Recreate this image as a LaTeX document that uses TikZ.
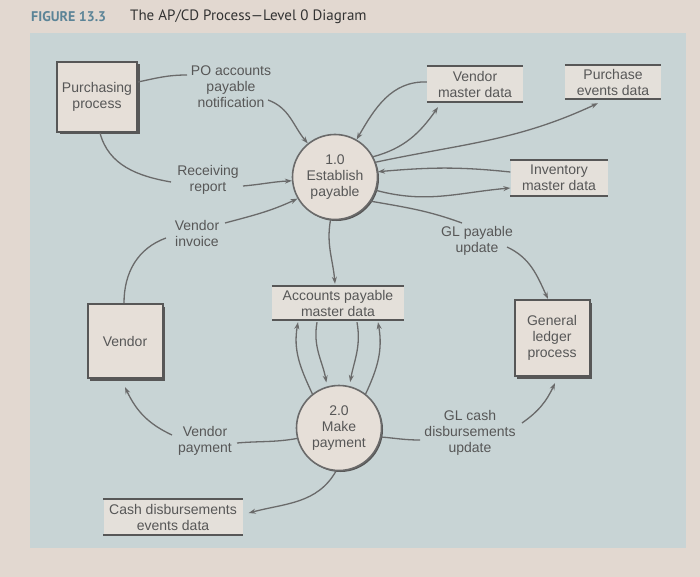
\documentclass[tikz,border=0pt]{standalone}
\usepackage{fontspec}
\setmainfont{Liberation Sans}
\newfontfamily\titlefont{PT Sans}
\usetikzlibrary{arrows.meta,shadows,calc}
\definecolor{page}{HTML}{E2D8D0}
\definecolor{panel}{HTML}{C8D4D5}
\definecolor{boxfill}{HTML}{E6DFD8}
\definecolor{storefill}{HTML}{E4E0DA}
\definecolor{ink}{HTML}{575757}
\definecolor{linec}{HTML}{6A6A6A}
\definecolor{figteal}{HTML}{5B8497}
\definecolor{titleink}{HTML}{333333}
\begin{document}
\begin{tikzpicture}[x=1pt,y=-1pt,
  every node/.style={font=\fontsize{14}{16}\selectfont, text=ink},
  extbox/.style={draw=ink, line width=2pt, fill=boxfill, align=center, inner sep=0pt,
    drop shadow={shadow xshift=2.5pt, shadow yshift=-2.5pt, fill=ink, opacity=1}},
  procc/.style={circle, draw=linec, line width=1.6pt, fill=boxfill, align=center, inner sep=0pt,
    minimum size=85pt, drop shadow={shadow xshift=1.5pt, shadow yshift=-1.5pt, fill=ink, opacity=1}},
  store/.style={fill=storefill, align=center, inner sep=0pt},
  storeline/.style={draw=ink, line width=2pt},
  lbl/.style={align=center, inner sep=0pt},
  plain/.style={draw=linec, line width=1.3pt},
  flow/.style={draw=linec, line width=1.3pt, -{Stealth[length=7pt,width=5pt]}}
]
\useasboundingbox (0,0) rectangle (700,577);
\fill[page] (0,0) rectangle (700,577);
\fill[panel] (30,33) rectangle (686,548);

% title
\node[anchor=west, inner sep=0pt, font=\titlefont\bfseries\fontsize{14}{16}\selectfont, text=figteal] (fig) at (31,17) {FIGURE 13.3};
\node[anchor=west, inner sep=0pt, font=\titlefont\fontsize{15}{17}\selectfont, text=titleink] (ttl) at (130,17) {The AP/CD Process—Level 0 Diagram};

% external entities
\node[extbox, minimum width=80pt, minimum height=70pt] (pp) at (97,97) {Purchasing\\process};
\node[extbox, minimum width=75pt, minimum height=74pt] (vend) at (125,341) {Vendor};
\node[extbox, minimum width=75pt, minimum height=76pt] (gl) at (552,338) {General\\ledger\\process};

% processes
\node[procc] (p1) at (335,177) {1.0\\Establish\\payable};
\node[procc] (p2) at (339,428) {2.0\\Make\\payment};

% data stores
\node[store, minimum width=96pt, minimum height=36pt] (vmd) at (475,84) {Vendor\\master data};
\node[store, minimum width=96pt, minimum height=34pt] (ped) at (613,82) {Purchase\\events data};
\node[store, minimum width=97pt, minimum height=35pt] (imd) at (559,178) {Inventory\\master data};
\node[store, minimum width=132pt, minimum height=34pt] (apm) at (338,303) {Accounts payable\\master data};
\node[store, minimum width=139pt, minimum height=35pt] (cde) at (173,517) {Cash disbursements\\events data};
\foreach \s in {vmd,ped,imd,apm,cde}{
  \draw[storeline] (\s.north west) -- (\s.north east) (\s.south west) -- (\s.south east);
}

% flow labels
\node[lbl] (polbl) at (231,87) {PO accounts\\payable\\notification};
\node[lbl] (rrlbl) at (208,180) {Receiving\\report};
\node[lbl] (vilbl) at (197,233) {Vendor\\invoice};
\node[lbl] (glplbl) at (477,241) {GL payable\\update};
\node[lbl] (vplbl) at (205,441) {Vendor\\payment};
\node[lbl] (glclbl) at (470,433) {GL cash\\disbursements\\update};

% label attachment points
\coordinate (poIn) at (187,75);
\coordinate (poOut) at (268,100);
\coordinate (rrIn) at (171,182);
\coordinate (rrOut) at (243,186);
\coordinate (viOut) at (225,223);
\coordinate (viIn) at (166,238);
\coordinate (glpIn) at (462,223);
\coordinate (glpOut) at (507,247);
\coordinate (vpIn) at (237,443);
\coordinate (vpOut) at (172,435);
\coordinate (glcIn) at (420,440);
\coordinate (glcOut) at (522,423);

% connectors into process 1.0
\draw[plain] ([yshift=15pt]pp.east) to[out=12,in=180] (poIn);
\draw[flow] (poOut) to[out=-20,in=130] (p1.129);
\draw[plain] ([xshift=3pt]pp.south) to[out=-75,in=170] (rrIn);
\draw[flow] (rrOut) to[out=5,in=183] (p1.185);
\draw[flow] (viOut) to[out=15,in=205] (p1.210);
\draw[plain] (viIn) to[out=200,in=90] ([xshift=-1pt]vend.north);

\draw[flow] ([yshift=2pt]vmd.west) to[out=178,in=60] (p1.60);
\draw[flow] (p1.28) to[out=15,in=235] ([xshift=-37pt,yshift=-5pt]vmd.south);
\draw[flow] (p1.20) to[out=12,in=205] ([xshift=-15pt,yshift=-4pt]ped.south);
\draw[flow] ([yshift=6pt]imd.west) to[out=174,in=5] (p1.7);
\draw[flow] (p1.-18) to[out=-15,in=185] ([yshift=-10pt]imd.west);
\draw[plain] (p1.-34) to[out=-10,in=160] (glpIn);
\draw[flow] (glpOut) to[out=-25,in=115] ([xshift=-4pt]gl.north);

\draw[flow] (p1.264) to[out=-100,in=95] ([xshift=-3pt,yshift=2pt]apm.north);

% between AP master data and process 2.0
\draw[flow] (p2.128) to[out=115,in=-100] ([xshift=-40pt,yshift=-2pt]apm.south);
\draw[flow, shorten >=4pt] ([xshift=-21pt,yshift=-2pt]apm.south) to[out=-100,in=100] (p2.106);
\draw[flow, shorten >=4pt] ([xshift=19pt,yshift=-2pt]apm.south) to[out=-80,in=80] (p2.76);
\draw[flow] (p2.52) to[out=65,in=-80] ([xshift=40pt,yshift=-2pt]apm.south);

% out of process 2.0
\draw[plain] (p2.194) to[out=190,in=5] (vpIn);
\draw[flow] (vpOut) to[out=155,in=-65] ([yshift=-8pt]vend.south);
\draw[plain] (p2.-12) to[out=-5,in=180] (glcIn);
\draw[flow] (glcOut) to[out=35,in=-115] ([xshift=3pt,yshift=-6pt]gl.south);
\draw[flow] (p2.266) to[out=-120,in=15] ([xshift=6pt,yshift=4pt]cde.east);
\end{tikzpicture}
\end{document}
